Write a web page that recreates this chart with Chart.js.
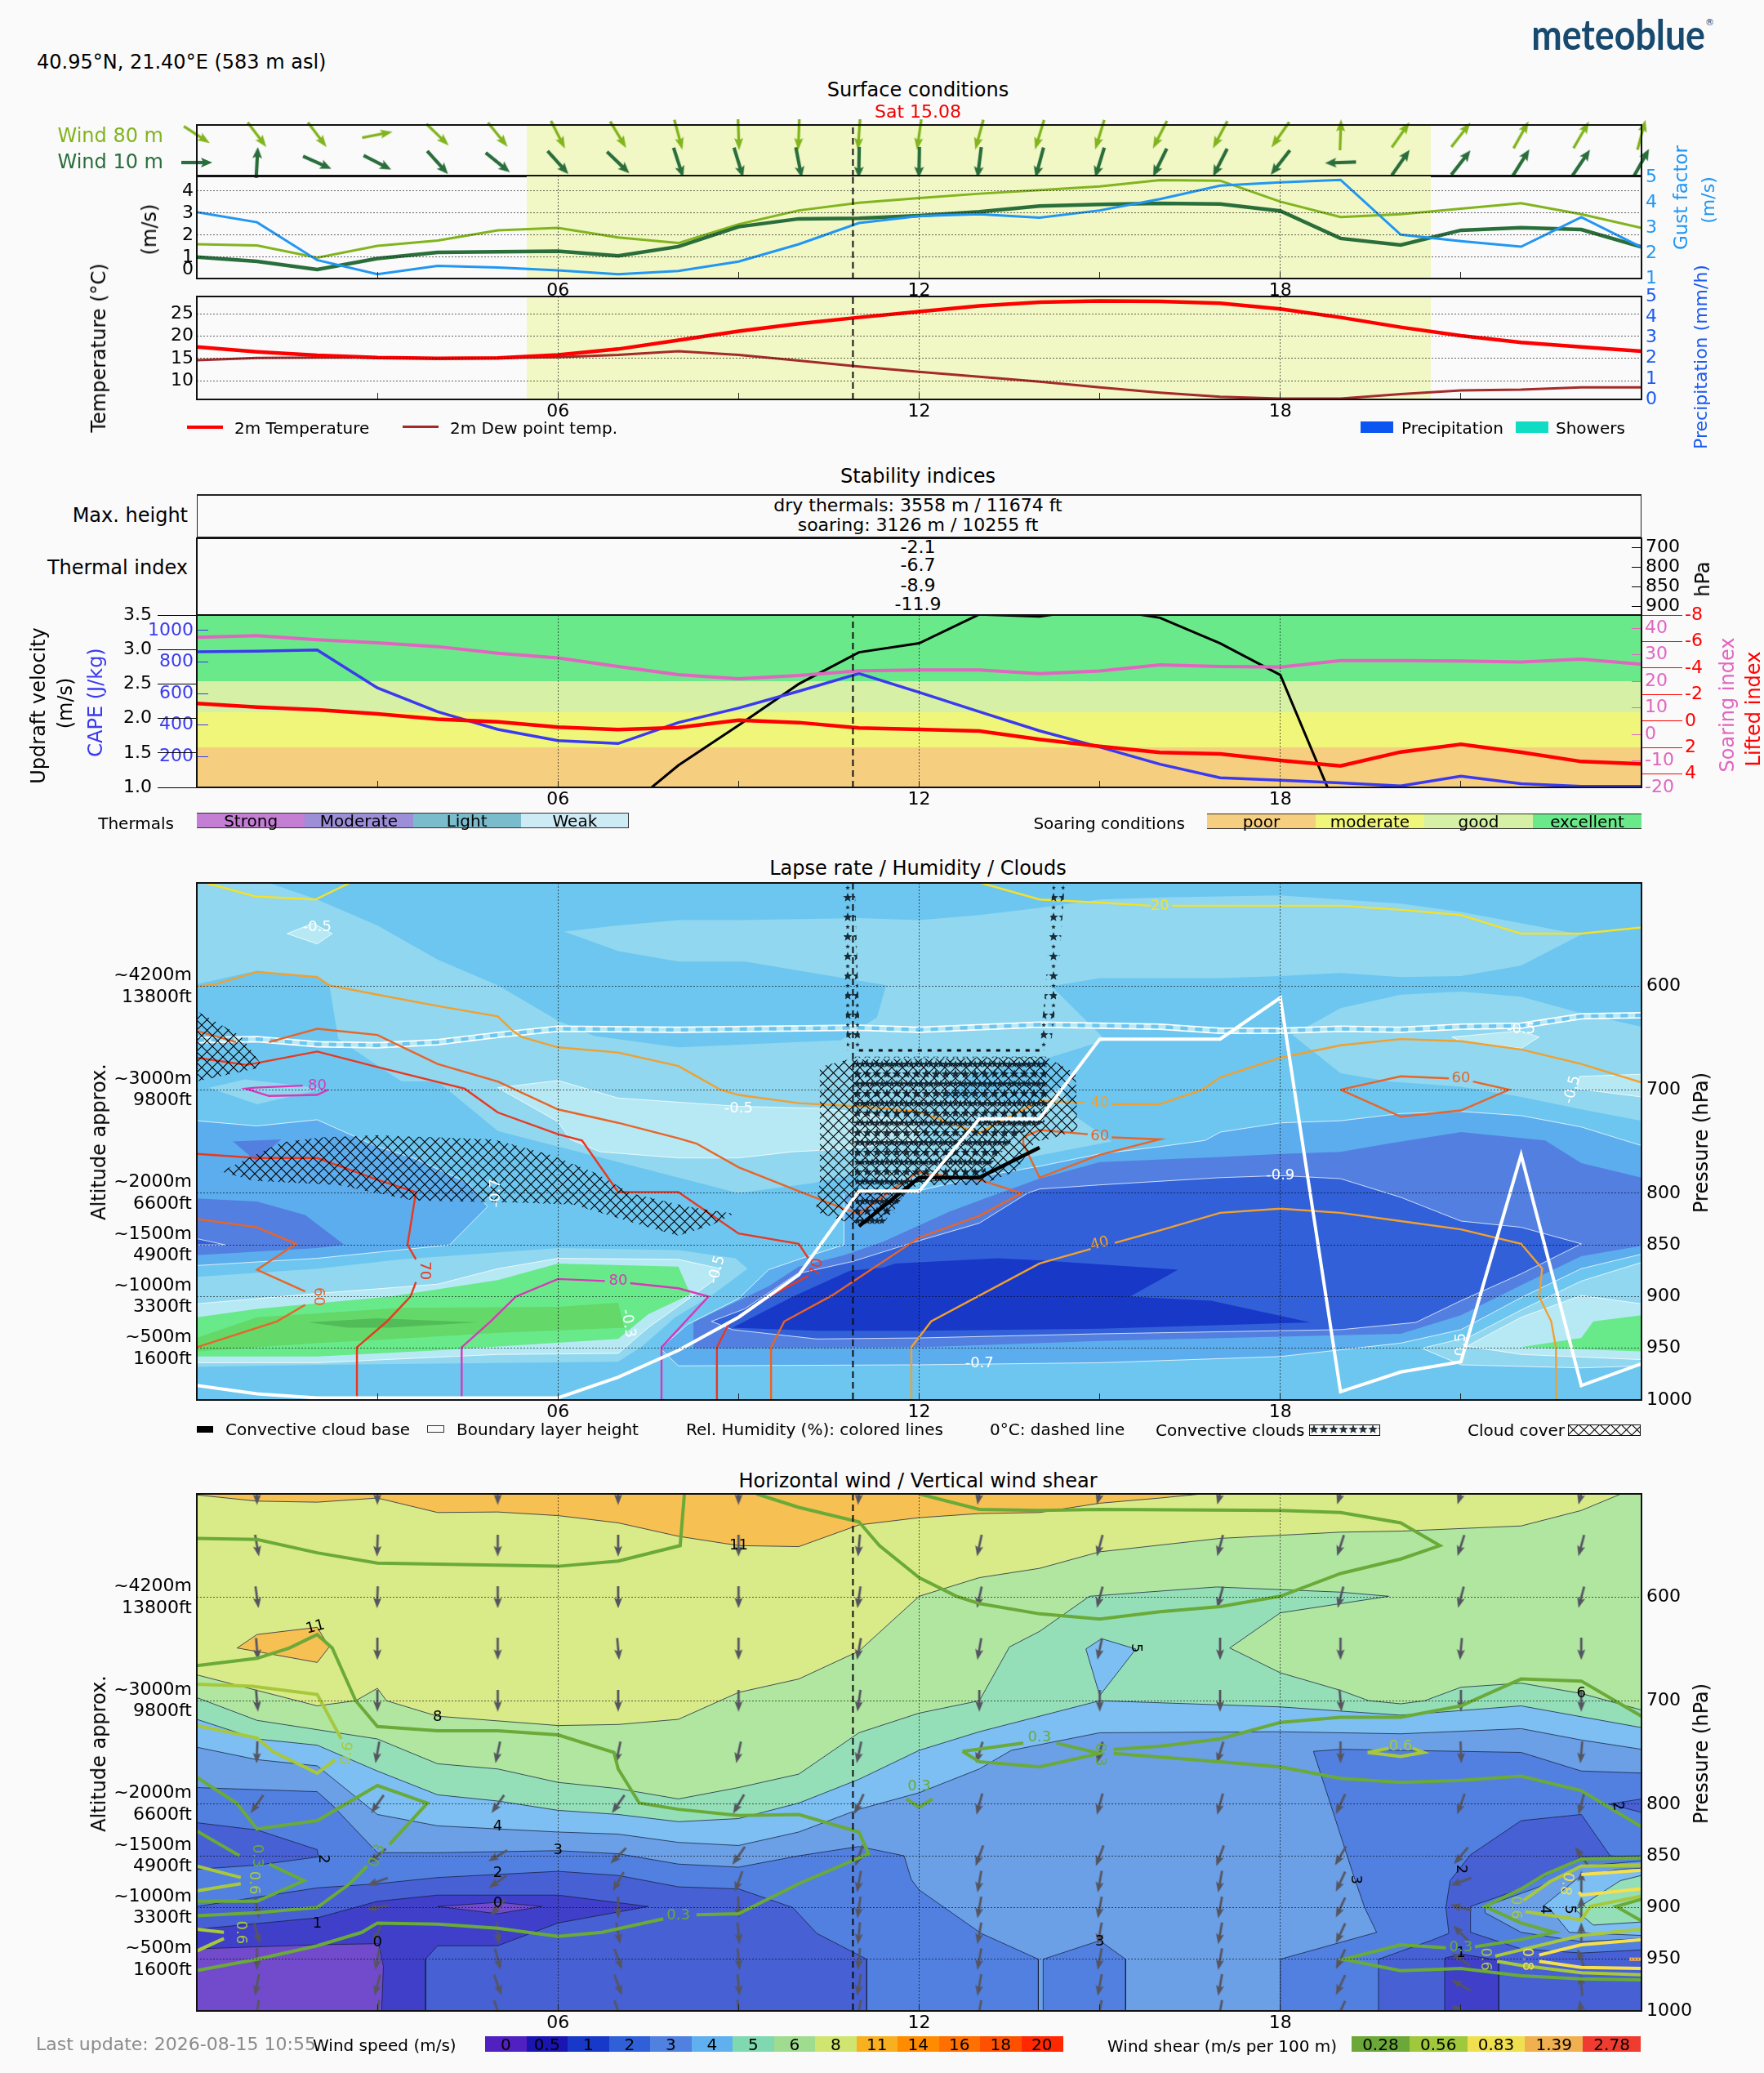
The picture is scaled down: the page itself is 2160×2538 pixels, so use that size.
<!DOCTYPE html>
<html>
<head>
<meta charset="utf-8">
<title>meteoblue</title>
<script src="https://cdn.jsdelivr.net/npm/chart.js@4"></script>
<style>
  html, body { margin: 0; background: #fafafa; }
  #page { position: relative; width: 2160px; height: 2538px; overflow: hidden; background: #fafafa; font-family: "DejaVu Sans", sans-serif; color: #000; }
  canvas { position: absolute; left: 0; }
  .t { position: absolute; white-space: nowrap; line-height: 1; }
  .box { position: absolute; box-sizing: border-box; }
</style>
</head>
<body>
<div id="page"></div>
<script>
// ── Hourly series ─────────────────────────────────────────────
const hours    = [0,1,2,3,4,5,6,7,8,9,10,11,12,13,14,15,16,17,18,19,20,21,22,23,24];
const wind80   = [1.59,1.53,.98,1.51,1.75,2.22,2.33,1.89,1.64,2.49,3.12,3.47,3.68,3.88,4.04,4.21,4.50,4.47,3.52,2.82,2.95,3.20,3.45,2.95,2.33];
const wind10   = [1.0,.81,.44,.94,1.22,1.24,1.27,1.06,1.48,2.38,2.74,2.76,2.88,3.06,3.32,3.39,3.44,3.41,3.10,1.85,1.55,2.22,2.34,2.25,1.46];
const gust     = [3.63,3.23,1.73,1.17,1.50,1.44,1.32,1.17,1.30,1.67,2.36,3.20,3.48,3.55,3.41,3.70,4.15,4.68,4.81,4.91,2.74,2.48,2.26,3.43,2.24];
const wind80Dir = [123,143,143,79,134,141,153,149,165,178,182,184,188,195,197,197,207,208,215,2,35,38,29,30,15];
const wind10Dir = [90,3,114,117,138,129,138,134,162,163,169,181,181,187,195,197,206,207,218,268,35,38,32,34,29];
const temp     = [17.6,16.5,15.7,15.2,15.0,15.1,15.8,17.1,19.1,21.1,22.8,24.2,25.5,26.8,27.6,27.9,27.8,27.4,26.1,24.2,22.0,20.1,18.6,17.6,16.6];
const dew      = [14.6,15.1,15.2,15.2,15.0,15.1,15.3,15.8,16.6,15.8,14.5,13.2,12.0,10.9,9.8,8.5,7.3,6.4,6.0,6.0,7.0,7.8,8.0,8.5,8.5];
const updraft  = [null,null,null,null,null,null,null,.6,1.32,1.9,2.5,2.96,3.09,3.51,3.48,3.6,3.46,3.09,2.63,.55,null,null,null,null,null];
const cape     = [865,869,877,636,485,373,302,283,416,508,615,727,608,485,364,261,152,66,50,33,14,76,28,12,12];
const soaring  = [36.6,37.2,35.7,34.5,33.1,30.6,28.8,25.6,22.5,21.0,22.2,24.0,24.3,24.3,22.9,23.9,26.2,25.6,25.4,27.8,27.8,27.7,27.3,28.4,26.4];
const lifted   = [-1.33,-1.06,-.85,-.55,-.14,.05,.46,.64,.48,-.07,.11,.52,.62,.75,1.38,1.9,2.37,2.47,2.96,3.38,2.33,1.75,2.35,3.05,3.23];

// ── Tick labels ───────────────────────────────────────────────
const pressureTicks = [600,700,800,850,900,950,1000];
const altitudeLabels = { 600:['~4200m','13800ft'], 700:['~3000m','9800ft'], 800:['~2000m','6600ft'], 850:['~1500m','4900ft'], 900:['~1000m','3300ft'], 950:['~500m','1600ft'] };
const thermalHpa = [700,800,850,900];
const thermalSpots = [.47,1.47,2.47,3.47];
const thermalIndex = ['-2.1','-6.7','-8.9','-11.9'];
const soaringBands = [1.0,1.58,2.09,2.54,3.5];
const nowHour = 10.9, dayStart = 5.48, dayEnd = 20.5;

// ── Lapse rate contours: [hour, hPa] ──────────────────────────
const lapseBand1 = [[0,500],[1.2,500],[2,516],[3,541],[4,574],[5,599],[6,633],[6.6,648],[8,659],[10.7,652],[11.3,630],[11.45,599],[9.1,576],[8,576],[7,566],[6.1,547],[7,541],[8,536],[9,536],[11,534],[12,536],[13,531],[14,524],[15,516],[16,514],[18,512],[19,516],[20,520],[21,528],[22,539],[23,550],[22,580],[21,590],[20,591],[19,587],[18,590],[17,592],[15,592],[14.2,600],[15.1,652],[14.1,670],[14.6,726],[15.2,750],[13.6,768],[12,792],[10.9,782],[10.25,790],[9,800],[8,785],[7,770],[6,755],[5,740],[4,692],[3.4,692],[2.35,651],[2.2,598],[2,592],[1,585],[0,598]];
const lapseBand1b = [[0.2,698],[0.8,690],[2,698],[2.05,700],[1,714]];
const lapseRight1 = [[18.2,647],[19,621],[20,608],[21,605],[22,610],[23,626],[24,639],[24,730],[23,719],[22,707],[21,697],[19.8,692],[19,684]];
const lapseBlob = [[12.9,684],[14.1,670],[14.6,690],[13.9,712],[12.4,708]];
const lapseLight1 = [[1.5,549],[1.93,539],[2.25,549],[2,559]];
const lapseLight2 = [[5,698],[6,691],[7,708],[9,716],[10.4,718],[11,722],[12,733],[12,748],[10.9,757],[9.9,760],[9,766],[8,766],[6.7,760],[6.2,748],[6,731]];
const lapseLight3 = [[20.85,649],[21.98,643],[22.3,649],[22,660],[21,653]];
const lapseLight4 = [[22.97,687],[24,685],[24,707],[22.93,699]];
const lapseLeftMid1 = [[0,730],[1,735],[2,729],[3,755],[3.6,766],[4.5,790],[4.83,813],[4.2,850],[2,863],[0,870]];
const lapseLeftMid2 = [[0,805],[1,808],[1.8,821],[2.45,850],[2,853],[0,860]];
const lapseLeftMid2b = [[0.6,750],[1.4,748],[1.05,766],[1,770]];
const lapseLeftMid3 = [[0,844],[0.47,850],[0,850]];
const lapseLens1 = [[0,881],[2,873],[3.4,864],[6,853],[8,855],[8.95,863],[9.15,873],[8.55,899],[7.95,920],[7.4,948],[7,963],[2,966],[0,968]];
const lapseLens2 = [[0,907],[2,897],[4,888],[5,873],[6,863],[8,864],[8.7,873],[8.55,886],[8.2,901],[7.5,930],[7,955],[5,956],[2,964],[0,964]];
const lapseGreen1 = [[0,920],[1,912],[3.2,900],[5,884],[6,868],[8,871],[8.2,898],[7.5,917],[7,941],[4,952],[2,958],[0,958]];
const lapseGreen2 = [[0,940],[1,920],[3.4,911],[6,910],[7,906],[7.1,930],[5,935],[3,942],[2,945],[0,953]];
const lapseGreen3 = [[1.85,925],[3,921],[4.65,925],[3.2,930],[2.5,930]];
const lapseGreenR = [[21.98,949],[23,940],[23.2,924],[24,918],[24,953]];
const lapseLightR = [[21.1,948],[22,920],[23,899],[24,907],[24,961],[22,956]];
const lapseBandR = [[20.35,950],[21.14,939],[22,913],[23,885],[24,867],[24,967],[23,969],[21,966]];
const lapseBlue1 = [[8,967],[7.7,950],[8.15,927],[9,902],[9.5,874],[10.05,863],[10.75,850],[10.75,800],[11.97,798],[13,784],[14,774],[15,762],[16,755],[16.75,749],[17,741],[18,732],[19,730],[20,723],[21,721],[22,725],[23,736],[24,754],[24,859],[23,873],[22,901],[21,932],[20,945],[18,958],[15,964],[12,966]];
const lapseBlue2 = [[8.25,950],[8.25,925],[9.5,890],[10,871],[10.75,860],[11.4,847],[12.5,818],[13,807],[14,786],[15,770],[17,765],[18,762],[19,760],[19.8,752],[21,741],[22.4,749],[23,771],[24,785],[24,851],[23,861],[22,889],[21,918],[20,936],[15,943],[12,949]];
const lapseBlue3 = [[8.55,924],[9.1,912],[9.97,878],[10.9,866],[11.94,847],[13,829],[13.8,800],[14,796],[15,792],[17,785],[18,783],[19,786],[20,804],[21,827],[22,833],[23,849],[22,878],[21,904],[20.25,925],[19,932],[15,936],[12,940],[10.3,941],[8.9,932]];
const lapseBlue4 = [[8.9,930],[9.9,900],[10.85,875],[11.4,872],[11.6,868],[13.3,863],[14,865],[16.3,874],[15.5,900],[16.85,904],[18.5,925],[15,931],[12,933],[10.3,933]];

// ── Humidity, boundary layer, cloud base, freezing level ──────
const rh20a = [[0.16,500],[0.97,513],[1.97,516],[2.54,500]];
const rh20b = [[13.03,500],[14,516],[15,519],[15.85,522],null,[16.2,522],[19,522],[20,526],[21,531],[22,549],[23,549],[24,543]];
const rh40a = [[0,600],[0.3,598],[1,586],[2,591],[2.2,599],[3,608],[4,619],[5,629],[5.25,643],[5.4,649],[6,659],[7,664],[8,677],[8.7,700],[9,705],[10,713],[11,716],[11.97,721],[13,742],[13.4,729],[14,711],[14.75,712],null,[15.2,714],[16,714],[16.7,700],[17,688],[18,669],[19,657],[20,651],[21,653],[22,661],[23,675],[24,693]];
const rh40b = [[11.87,1000],[11.87,949],[12.2,924],[14,868],[14.85,854],null,[15.25,848],[16,836],[17,819],[18,815],[19,819],[20,827],[21,835],[22,849],[22.35,873],[22.3,900],[22.5,924],[22.58,950],[22.58,1000]];
const rh60a = [[0,643],[0.65,654],null,[1.2,654],[2,641],[3,647],[4,675],[5,692],[6,719],[7,732],[8,747],[8.3,752],[9,775],[10,798],[10.75,815],[11,820],[11.66,792],[11.97,780],[13,787],[13.7,800],[13,822],[12,843],[10.55,899],[9.76,924],[9.54,949],[9.54,1000]];
const rh60b = [[19,700],[20,687],[20.8,689],null,[21.2,692],[21.8,700],[21,720],[20,726],[19,700]];
const rh60c = [[13.73,746],[14,739],[14.8,743],null,[15.2,746],[16,748],[15,763],[14,785],[13.73,752],[13.73,746]];
const rh60d = [[0,825],[1,833],[1.65,849],[1,874],[1.8,895],null,[1.8,908],[1.33,924],[0,949]];
const rh70a = [[0,669],[0.83,676],[2,663],[3,678],[4.45,699],[5,722],[6,743],[6.4,749],[7,799],[8,799],[9,839],[10,849],[10.16,863],null,[10.16,880],[9.5,900],[8.85,925],[8.64,949],[8.64,1000]];
const rh70b = [[0,762],[1,766],[2,766],[3,787],[3.64,799],[3.5,850],[3.64,864],null,[3.64,886],[3.55,900],[3.16,924],[2.66,949],[2.66,1000]];
const rh80a = [[1.76,696],[0.97,698],[0.81,699],[1.2,706],[2,705],[2.18,700]];
const rh80b = [[4.4,1000],[4.4,949],[4.88,924],[5.3,900],[6,883],[6.78,885],null,[7.2,887],[8,892],[8.5,900],[7.72,949],[7.72,1000]];
const boundaryLayer = [[0,986],[1,994],[2,998],[6,998],[7,978],[8,952],[9,920],[10,879],[11,798],[12,798],[13,728],[14,728],[15,651],[17,651],[18,611],[19,992],[20,973],[21,963],[22,763],[23,986],[24,965]];
const cloudBase = [[11,832],[12,785],[13,785],[14,756]];
const freezing = [[0,652],[1,651],[2,656],[3,657],[4,654],[5,647],[6,641],[8,642],[11,640],[12,642],[14,637],[16,639],[17,643],[18,643],[19,641],[20,642],[21,639],[22,638],[23,629],[24,628]];
const cover1 = [[0,624],[0.73,648],[1.1,678],[0,692]];
const cover2 = [[0.4,779],[1.4,751],[2.06,746],[3,744],[4.93,748],[5.88,763],[6.64,781],[7.2,800],[8.15,813],[8.92,820],[8.55,831],[8,841],[7.5,833],[6.25,811],[5.3,809],[3.6,807],[2.34,792],[0.93,788]];
const cover3 = [[10.35,678],[10.8,671],[14.1,668],[14.6,684],[14.63,739],[14.2,747],[13.93,750],[13.6,779],[13.02,792],[11.97,792],[11.6,810],[11.6,819],[11.3,825],[10.9,830],[10.28,818],[10.35,789]];
const convectiveLeft = [[10.72,500],[10.93,500],[11.02,662],[10.8,662]];
const convectiveRight = [[14.0,662],[14.1,600],[14.22,500],[14.42,500],[14.3,600],[14.18,662]];
const convectiveBody = [[10.9,668],[14.12,668],[14.12,730],[13.6,745],[13,785],[11.9,790],[11.4,830],[10.95,830]];
const convectiveRim = [[11,662],[14,662]];

// ── Wind speed contours: [hour, hPa] ──────────────────────────
const speedA = [[0,501],[1,507],[2,508],[3,504],[4,518],[5,517.5],[6,521],[7,528],[8,541],[9,550],[10,551],[11,530],[12,523],[13,519],[14,518],[15,509],[16,504],[16.7,500],[24,500],[24,1000],[0,1000]];
const speedOrange = [[0.67,649],[1,636],[2,629],[2.2,648],[2,663]];
const speedB = [[0,675],[1,690],[2,705],[2.64,700],[3,688],[3.15,700],[4,715],[6,724],[7,723],[8,718],[9,692],[10,679],[11,652],[12,599],[13,581],[14,572],[15,556],[17,543],[19,537],[20,536],[22,531],[23,516],[23.66,500],[24,500],[24,1000],[0,1000]];
const speedC = [[0,697],[1,719],[2,728],[3,737],[4,761],[5,766],[6,779],[7,785],[8,795],[9,784],[10,771],[11,731],[12,712],[13,700],[13.5,648],[14,633],[14.83,599],[16.94,590],[19,595],[19.8,599],[18,615],[17.16,649],[18,673],[19,690],[19.47,700],[20,703],[20.4,700],[21,687],[22,683],[23,693],[24,709],[24,1000],[0,1000]];
const speedD = [[0,718],[1,737],[2,743],[3,768],[4,791],[5,797],[6,806],[7,810],[8,817],[9,814],[10,799],[11,776],[12,748],[13,730],[15,700],[18,706],[20,714],[22,705],[24,726],[24,1000],[0,1000]];
const speedBlob5 = [[14.77,650],[15.03,640],[15.6,650],[15,695]];
const speedE = [[0,745],[1,757],[2,763],[3,810],[4,821],[5,824],[6,827],[7,829],[8,837],[9,840],[10,827],[11,805],[12,789],[13,766],[13.53,748],[15,731],[18,730],[20,732],[22,727],[23,738],[24,747],[24,1000],[0,1000]];
const speedF = [[0,784],[2,788],[2.25,801],[3,847],[4,847],[6,845],[7,848],[8,858],[9,861],[10,850],[11,841],[11.75,850],[11.87,873],[12,883],[13.03,925],[13.98,950],[13.98,1000],[14.06,1000],[14.06,950],[15,932],[15.43,950],[15.43,1000],[18,1000],[18,950],[19.6,924],[19.4,900],[19.2,866],[18.55,749],[19,747],[22,750],[23,768],[24,770],[24,1000],[0,1000]];
const speedG = [[0,899],[2,881],[3,877],[4,871],[6,865],[7,869],[8,880],[9,882],[9.9,900],[10.3,925],[11.13,950],[11.13,1000],[0,1000]];
const speedG2 = [[0,818],[1,825],[2,844],[2.02,851],[1,859],[0,863]];
const speedG3 = [[19.63,1000],[19.63,950],[20.5,932],[20.8,925],[20.75,900],[20.82,874],[21.16,849],[22,816],[23,810],[23.48,850],[24,852],[24,1000]];
const speedG4 = [[23.46,800],[24,795],[24,808]];
const speedLensF = [[21.16,899],[22,882],[23,851],[24,850],[24,941],[23,944],[22,940],[21.16,924]];
const speedLensE = [[21.4,899],[22.3,880],[23,860],[24,855],[24,930],[23,933],[22,924],[21.4,905]];
const speedLensD = [[22.36,899],[23,869],[23.65,863],[24,862],[24,927],[22.8,924],[22.5,903]];
const speedLensC = [[22.9,902],[23.65,874],[24,869],[24,914],[23.2,917]];
const speedH = [[0,921],[2,910],[3,894],[4,888],[6,888],[7.5,899],[6,915],[5,937],[4,937],[3.8,950],[3.8,1000],[0,1000]];
const speedH2 = [[20.73,949],[21,945],[21.63,951],[21.63,1000],[20.73,1000]];
const speedI = [[0,940],[2,936],[3.02,935],[3.1,957],[3.07,1000],[0,1000]];
const speedI2 = [[4,899],[5,895],[5.73,899],[5,906]];

// ── Wind shear contours ───────────────────────────────────────
const shear03 = [
  [[0,543],[1,544],[2,557],[3,567],[5,569],[6,570],[7,565],[8.03,550],[8.1,500]],
  [[9.3,500],[10,513],[11,527],[11.34,550],[12,581],[12.62,599],[13,606],[14,616],[15,621],[16,614],[17,609],[18,599],[19,577],[20,563],[20.65,550],[20,528],[19,518],[18,516],[15,515],[14,516],[13,515],[12,500]],
  [[0,666],[1,659],[1.54,649],[2,636],[2.25,649],[2.64,700],[3,725],[4,729],[5,729],[6,733],[6.93,750],[7,766],[7.35,799],[8,805],[9,811],[10,810],[11,827],[11.16,848],[10,877],[9,906],[8.3,907],null,[7.75,911],[6.73,924],[6,928],[5,920],[4,916],[3,915],[2.74,924],[2,937],[1,950],[0,961]],
  [[0,774],[0.66,799],[1,824],[2,816],[3,782],[3.83,799],[3.2,839],null,[2.83,860],[2.54,877],[2,900],[1,905],[0,908]],
  [[0,826],[0.71,850],null,[1.2,858],[1.78,874],[1,894],[0,894]],
  [[12.72,749],[13.73,741],null,[14.28,741],[15,751],[14,764],[13,759],[12.72,749]],
  [[15.23,747],[16,744],[17,737],[18,721],[19,716],[20,716],[21,705],[22,679],[23,681],[24,715]],
  [[15.23,751],[17,759],[18,764],[19,775],[20,779],[21,777],[22,773],[23,787],[24,822]],
  [[11.79,795],[12,803],[12.22,795]],
  [[24,970],[23,969],[22,966],[21,959],[20,961],[19.05,950],[20,936],[20.75,939],null,[21.23,938],[22,931],[22.55,924],[22,915],[21.4,899],[22,882],[22.4,868],[23,853],[24,852]],
  [[24,892],[23.58,899],[24,913]],
];
const shear06 = [
  [[0,684],[0.92,686],[2,694],[2.4,737]],
  [[0,724],[1,736],[1.26,749],[2,770],[2.3,757]],
  [[0,860],[0.73,871]], [[0,884],[0.73,877]], [[0,921],[0.45,924]], [[0,942],[0.45,930]],
  [[19.45,750],[19.8,746],null,[20.2,746],[20.38,750],[20,754],[19.45,750]],
  [[22.04,893],[22.48,875],[23,860],[24,859]],
  [[21.57,947],[23,927],[24,921]],
  [[21.6,952],[22,956],[23,963],[24,965]],
  [[22.07,904],[23,912],[23.15,899],[24,889]],
];
const shear08 = [
  [[23,868],[24,864]], [[22.96,885],[23,888],[24,882]],
  [[22.3,946],[23,936],[24,931]], [[22.3,952],[23,958],[24,959]],
];
const shear14 = [[23.8,950],[24,950]];

// ── Wind field, bearing of each arrow by level and hour ───────
const windHours = [1,3,5,7,9,11,13,15,17,19,21,23];
const windLevels = [500,550,600,650,700,750,800,850,875,900,925,950,975,1000];
const windDirs = [
  [180,180,180,180,180,185,190,195,195,198,198,195],
  [170,182,180,180,180,185,192,195,195,198,198,195],
  [172,182,180,180,180,188,192,195,195,195,195,195],
  [175,180,180,175,180,190,190,192,180,180,185,180],
  [175,180,180,180,180,188,180,180,180,175,180,180],
  [182,190,192,192,192,192,197,195,197,180,178,185],
  [215,215,215,215,210,205,195,195,195,205,200,195],
  [null,230,240,225,215,200,200,200,200,210,220,325],
  [null,250,235,210,200,190,190,190,190,205,250,0],
  [170,260,220,180,178,188,190,190,190,205,285,0],
  [165,205,175,170,175,185,190,190,190,205,315,0],
  [180,190,165,160,175,185,190,190,190,205,305,340],
  [190,195,160,160,175,190,190,190,190,205,300,355],
  [190,190,160,160,175,190,190,190,190,205,300,350],
];

// ── Contour labels: text, hour, hPa, colour, rotation ─────────
const lapseLabels = [
  ['-0.5',2,543,'#fff',0],['-0.5',9,718,'#fff',0],['-0.5',8.64,874,'#fff',-75],['-0.3',7.16,926,'#fff',80],
  ['-0.7',4.97,800,'#fff',-90],['-0.9',18,783,'#fff',0],['-0.7',13,965,'#fff',0],['-0.5',21,949,'#fff',-90],
  ['-0.5',22,642,'#fff',0],['-0.5',22.85,700,'#fff',-75],
  ['20',16,522,'#f5e02a',0],['40',15,713,'#f0a030',0],['40',15,849,'#f0a030',-15],
  ['60',15,745,'#e86428',0],['60',21,689,'#e86428',0],['60',2.02,900,'#e86428',90],
  ['70',3.78,875,'#e8381f',90],['70',10.3,872,'#e8381f',-80],
  ['80',2,696,'#d838b8',0],['80',7,885,'#d838b8',0],
];
const windLabels = [
  ['11',9,550,'#000',0],['11',1.97,629,'#000',-15],['8',4,716,'#000',0],['4',5,822,'#000',0],['3',6,845,'#000',0],
  ['2',5,867,'#000',0],['0',5,896,'#000',0],['1',2,916,'#000',0],['0',3,934,'#000',0],['2',2.1,853,'#000',90],
  ['5',15.6,649,'#000',90],['6',23,693,'#000',0],['3',15,933,'#000',0],['3',19.25,873,'#000',90],['2',21,863,'#000',90],
  ['1',21,944,'#000',0],['2',23.6,802,'#000',80],['4',22.4,902,'#000',90],['5',22.8,902,'#000',90],
  ['0.3',8,908,'#6aaa38',0],['0.3',1,850,'#6aaa38',90],['0.6',2.5,751,'#a8c83c',-80],['0.3',3,850,'#6aaa38',-70],
  ['0.6',0.95,876,'#a8c83c',90],['0.6',0.73,924,'#a8c83c',90],['0.3',14,736,'#6aaa38',0],['0.3',15,752,'#6aaa38',90],
  ['0.3',12,783,'#6aaa38',0],['0.6',20,744,'#a8c83c',0],['0.3',21,939,'#6aaa38',0],['0.6',21.4,950,'#a8c83c',90],
  ['0.8',22.1,950,'#f0e050',90],['0.6',21.9,900,'#a8c83c',90],['0.8',22.75,877,'#f0e050',100],
];

// ── Legends ───────────────────────────────────────────────────
const thermalsLegend = ['Strong','Moderate','Light','Weak'];
const soaringLegend  = ['poor','moderate','good','excellent'];
const speedScale = ['0','0.5','1','2','3','4','5','6','8','11','14','16','18','20'];
const shearScale = ['0.28','0.56','0.83','1.39','2.78'];

const C = {
  w80:'#82b41e', w10:'#2a6e3c', gust:'#2196f3', precip:'#1a5af0', cape:'#3a3af0', soar:'#e066c0',
  day:'#f1f8c5', grid:'rgba(0,0,0,.6)',
  base:'#6cc6f0', l1:'#90d7ef', l2:'#b7e9f4', m1:'#5cadee', m2:'#5380e0', m3:'#3160d8', m4:'#1838c8',
  g1:'#68e98a', g2:'#64d868', g3:'#52bd58',
  s03:'#6aaa38', s06:'#a8c83c', s08:'#f5e04c',
};
const thermalsColors = ['#c47ed4','#9c8fd8','#7abccc','#cdebf4'];
const soaringColors  = ['#f6ce80','#f0f67a','#d6f0a5','#69e989'];
const speedColors = ['#5020c0','#1a14b0','#1838c8','#3060d8','#5080e0','#60b0f0','#80d8b0','#a0dc90','#d0e470','#f8b020','#ff8c00','#ff7000','#ff5000','#ff2800'];
const shearColors = ['#6ca838','#a0c83c','#f0e050','#f0b050','#f03c30'];

Chart.defaults.font.family = '"DejaVu Sans", sans-serif';
Chart.defaults.font.size = 22;
Chart.defaults.color = '#000';

const page = document.getElementById('page');
const PAD = 60; // wide enough that tick padding never squeezes the plot area

// ── DOM helpers ───────────────────────────────────────────────
function T(text, x, y, o = {}) {
  const el = document.createElement('div');
  el.className = 't';
  el.textContent = text;
  el.style.left = x + 'px';
  el.style.top = y + 'px';
  el.style.fontSize = (o.size || 20) + 'px';
  if (o.color) el.style.color = o.color;
  if (o.weight) el.style.fontWeight = o.weight;
  if (o.family) el.style.fontFamily = o.family;
  const ax = o.align === 'r' ? '-100%' : o.align === 'c' ? '-50%' : '0';
  el.style.transform = `translate(${ax},-50%)` + (o.rot ? ` rotate(${o.rot}deg)` : '') + (o.stretch || '');
  page.appendChild(el);
  return el;
}
function box(x, y, w, h, style = {}) {
  const el = document.createElement('div');
  el.className = 'box';
  Object.assign(el.style, { left: x + 'px', top: y + 'px', width: w + 'px', height: h + 'px' }, style);
  page.appendChild(el);
  return el;
}
const vText = (text, x, y, o = {}) => T(text, x, y, { align: 'c', rot: -90, size: 24, ...o });

// ── Dataset helpers ───────────────────────────────────────────
const pts = a => a.map(p => p ? { x: p[0], y: p[1] } : { x: NaN, y: NaN });
const series = s => s.map((v, i) => ({ x: hours[i], y: v === null ? NaN : v }));
const yScale = id => ({ yAxisID: id, xAxisID: 'x' });
function poly(a, color, id = 'y', border = 'transparent', bw = 0) {
  return { data: pts([...a, a[0]]), showLine: true, fill: 'shape', backgroundColor: color, borderColor: border, borderWidth: bw, pointRadius: 0, tension: 0, ...yScale(id) };
}
function line(data, color, width, id = 'y', extra = {}) {
  return { data, showLine: true, fill: false, borderColor: color, borderWidth: width, pointRadius: 0, tension: 0, borderJoinStyle: 'miter', ...yScale(id), ...extra };
}
const rect = (x0, x1, y0, y1, color, id) => poly([[x0, y0], [x1, y0], [x1, y1], [x0, y1]], color, id);
const nowLine = (y0, y1, id) => line(pts([[nowHour, y0], [nowHour, y1]]), '#111', 2, id, { borderDash: [8, 5] });

// arrows are real point styles, rotated by the chart
function arrowImage(color, len, shaft, headW, headL) {
  const cv = document.createElement('canvas');
  cv.width = Math.ceil(headW) + 2; cv.height = len;
  const g = cv.getContext('2d'), m = cv.width / 2;
  g.fillStyle = color;
  g.beginPath();
  g.moveTo(m, 0); g.lineTo(m + headW / 2, headL); g.lineTo(m + shaft / 2, headL - 2);
  g.lineTo(m + shaft / 2, len); g.lineTo(m - shaft / 2, len); g.lineTo(m - shaft / 2, headL - 2);
  g.lineTo(m - headW / 2, headL); g.closePath(); g.fill();
  return cv;
}
function arrows(points, rotation, img, id = 'y') {
  return { data: points, showLine: false, pointStyle: img, pointRadius: 10, pointRotation: rotation, ...yScale(id) };
}

// hatch fills
function hatchPattern() {
  const cv = document.createElement('canvas'); cv.width = cv.height = 13;
  const g = cv.getContext('2d');
  g.strokeStyle = '#000'; g.lineWidth = 1.1;
  g.beginPath(); g.moveTo(0, 0); g.lineTo(13, 13); g.moveTo(13, 0); g.lineTo(0, 13); g.stroke();
  return g.createPattern(cv, 'repeat');
}
function starPath(g, x, y, r) {
  g.beginPath();
  for (let i = 0; i < 10; i++) {
    const a = -Math.PI / 2 + i * Math.PI / 5, q = i % 2 ? r * .42 : r;
    g[i ? 'lineTo' : 'moveTo'](x + q * Math.cos(a), y + q * Math.sin(a));
  }
  g.closePath(); g.fill();
}
function starPattern() {
  const cv = document.createElement('canvas'); cv.width = 12; cv.height = 24;
  const g = cv.getContext('2d');
  g.fillStyle = 'rgba(12,24,36,.9)';
  starPath(g, 6, 6, 6);
  [0, 6, 12].forEach(x => starPath(g, x, 18, 5));
  return g.createPattern(cv, 'repeat');
}
function starColumnPattern() {
  const cv = document.createElement('canvas'); cv.width = 12; cv.height = 24;
  const g = cv.getContext('2d');
  g.fillStyle = 'rgba(12,24,36,.9)';
  starPath(g, 6, 6, 6);
  starPath(g, 6, 18, 3);
  return g.createPattern(cv, 'repeat');
}

// ── Axis helpers ──────────────────────────────────────────────
const isMajor = v => v === 6 || v === 12 || v === 18;
function xAxis(labels, grid = true) {
  return {
    type: 'linear', min: 0, max: 24,
    afterFit: s => { s.height = PAD; },
    border: { display: false, dash: [2, 2] },
    grid: {
      z: 1, lineWidth: 1, tickLength: -8,
      color: c => grid && isMajor(c.tick.value) ? C.grid : 'transparent',
      tickColor: c => labels && c.tick.value % 3 === 0 && c.tick.value > 0 && c.tick.value < 24 ? '#222' : 'transparent',
    },
    ticks: { stepSize: 3, autoSkip: false, maxRotation: 0, padding: 10, font: { size: 22 },
      callback: v => labels && isMajor(v) ? String(v).padStart(2, '0') : '' },
  };
}
function yAxis(pos, min, max, values, o = {}) {
  return {
    type: 'linear', axis: 'y', position: pos, min, max, reverse: !!o.reverse, weight: o.weight || 0,
    afterFit: s => { s.width = o.width !== undefined ? o.width : (pos === 'left' ? 241 : 150); },
    afterBuildTicks: s => { s.ticks = values.map(v => ({ value: v })); },
    border: { display: false, dash: o.grid ? [2, 2] : undefined },
    grid: {
      z: 1, lineWidth: 1, drawTicks: o.tick !== undefined, tickLength: o.tick || 0,
      color: c => o.grid && !(o.noGridBelow !== undefined && c.tick.value < o.noGridBelow) && c.tick.value !== max ? C.grid : 'transparent',
      tickColor: o.color || '#000',
      drawOnChartArea: !!o.grid,
    },
    // width-0 axes sit on the plot edge, mirror keeps their labels from being clipped to the box
    ticks: { display: o.labels !== false, autoSkip: false, padding: o.pad !== undefined ? o.pad : 4, color: o.color || '#000',
      mirror: !!o.mirror, crossAlign: o.mirror ? 'far' : 'near',
      font: { size: o.size || 22 }, lineHeight: 1.05,
      callback: o.fmt || (v => String(v)) },
  };
}

// frame and contour text are drawn last
const framePlugin = {
  id: 'frame',
  afterDraw(chart) {
    const { ctx, chartArea: a } = chart;
    ctx.save();
    ctx.strokeStyle = '#111'; ctx.lineWidth = 2;
    ctx.strokeRect(a.left, a.top, a.right - a.left, a.bottom - a.top);
    ctx.restore();
  },
};
function textPlugin(items) {
  return {
    id: 'contourText',
    afterDatasetsDraw(chart) {
      const { ctx, scales } = chart;
      ctx.save();
      ctx.font = '18px "DejaVu Sans"'; ctx.textAlign = 'center'; ctx.textBaseline = 'middle';
      items.forEach(([s, h, p, col, rot]) => {
        ctx.save();
        ctx.translate(scales.x.getPixelForValue(h), scales.y.getPixelForValue(p));
        ctx.rotate(rot * Math.PI / 180);
        ctx.fillStyle = col;
        ctx.fillText(s, 0, 0);
        ctx.restore();
      });
      ctx.restore();
    },
  };
}

// one panel = one chart, layers are listed bottom first
function panel(top, bottom, layers, scales, labels) {
  const cv = document.createElement('canvas');
  cv.width = 2160; cv.height = Math.round(bottom - top + PAD * 2);
  cv.style.top = (top - PAD) + 'px';
  cv.style.width = '2160px'; cv.style.height = cv.height + 'px';
  page.appendChild(cv);
  const plugins = [framePlugin];
  if (labels) plugins.push(textPlugin(labels));
  return new Chart(cv, {
    type: 'scatter',
    data: { datasets: layers.slice().reverse() },
    options: {
      responsive: false, animation: false, devicePixelRatio: 1, events: [],
      layout: { padding: { top: PAD, left: 0, right: 0, bottom: 0 } },
      plugins: { legend: { display: false }, tooltip: { enabled: false } },
      scales,
    },
    plugins,
  });
}

// ── Header and surface conditions ─────────────────────────────
const logo = T('meteoblue', 2088, 41, { align: 'r', size: 52, color: '#174a6e', weight: 700, family: 'Lato, sans-serif', stretch: ' scaleX(.86)' });
logo.style.transformOrigin = '100% 50%';
T('®', 2088, 27, { size: 11, color: '#174a6e' });
T('40.95°N, 21.40°E (583 m asl)', 45, 76, { size: 24 });
T('Surface conditions', 1124, 110, { align: 'c', size: 24 });

const windImg80 = arrowImage(C.w80, 38, 3.4, 11, 15);
const windImg10 = arrowImage(C.w10, 38, 4.2, 12, 14);
panel(152.5, 215, [
  rect(dayStart, dayEnd, 0, 1, C.day),
  nowLine(0, 1),
  { ...arrows(hours.map(h => ({ x: h, y: .81 })), wind80Dir, windImg80), clip: false },
  { ...arrows(hours.map(h => ({ x: h, y: .27 })), wind10Dir, windImg10), clip: false },
], { x: xAxis(false, false), y: yAxis('left', 0, 1, [], { labels: false }), yr: yAxis('right', 0, 1, [], { labels: false }) });
T('Wind 80 m', 200, 166, { align: 'r', size: 24, color: C.w80 });
T('Wind 10 m', 200, 198, { align: 'r', size: 24, color: C.w10 });
T('Sat 15.08', 1124, 137, { align: 'c', size: 22, color: '#f00000' });

panel(215, 341, [
  rect(dayStart, dayEnd, -1, 6, C.day),
  line(series(wind80), C.w80, 3),
  line(series(wind10), C.w10, 4.5),
  line(series(gust), C.gust, 3, 'yr'),
  nowLine(0, 4.7),
], {
  x: xAxis(true),
  y: yAxis('left', 0.03, 4.7, [0.42, 1, 2, 3, 4], { grid: true, noGridBelow: 1, fmt: v => v < 1 ? '0' : String(v) }),
  yr: yAxis('right', 1, 5.08, [1, 2, 3, 4, 5], { color: C.gust, pad: 5 }),
});

panel(363, 489, [
  rect(dayStart, dayEnd, 0, 40, C.day),
  line(series(dew), '#a52a2a', 3),
  line(series(temp), '#ff0000', 4.5),
  nowLine(5.8, 28.9),
], {
  x: xAxis(true),
  y: yAxis('left', 5.8, 28.9, [10, 15, 20, 25], { grid: true }),
  yr: yAxis('right', 0, 5, [0, 1, 2, 3, 4, 5], { color: C.precip, pad: 5 }),
});
vText('(m/s)', 183, 281);
vText('Temperature (°C)', 121, 426);
vText('Gust factor', 2058, 242, { color: C.gust, size: 23 });
vText('(m/s)', 2092, 245, { color: C.gust, size: 22 });
vText('Precipitation (mm/h)', 2083, 437, { color: C.precip, size: 22 });

box(229, 521, 44, 4, { background: '#f00' });
T('2m Temperature', 287, 524);
box(493, 521, 44, 3, { background: '#a52a2a' });
T('2m Dew point temp.', 551, 524);
box(1666, 516, 40, 14, { background: '#0b55f0' });
T('Precipitation', 1716, 524);
box(1856, 516, 40, 14, { background: '#10dcc4' });
T('Showers', 1905, 524);

// ── Stability indices ─────────────────────────────────────────
T('Stability indices', 1124, 583, { align: 'c', size: 24 });
box(241, 605, 1769, 54, { border: '1px solid #222', borderTop: '2px solid #222', borderBottom: '2px solid #222' });
T('Max. height', 230, 631, { align: 'r', size: 24 });
T('dry thermals: 3558 m / 11674 ft', 1124, 619, { align: 'c', size: 22 });
T('soaring: 3126 m / 10255 ft', 1124, 643, { align: 'c', size: 22 });
T('Thermal index', 230, 695, { align: 'r', size: 24 });
thermalIndex.forEach((v, i) => T(v, 1124, [670, 692, 717, 740][i], { align: 'c', size: 22 }));

panel(658.7, 753.3, [], {
  x: xAxis(false, false),
  y: yAxis('left', 0, 1, [], { labels: false }),
  yr: yAxis('right', 0, 3.96, thermalSpots, { reverse: true, tick: -12, pad: 17, fmt: (v, i) => String(thermalHpa[i]) }),
});

panel(753.3, 964.3, [
  rect(0, 24, soaringBands[0], soaringBands[1], soaringColors[0], 'y'),
  rect(0, 24, soaringBands[1], soaringBands[2], soaringColors[1], 'y'),
  rect(0, 24, soaringBands[2], soaringBands[3], soaringColors[2], 'y'),
  rect(0, 24, soaringBands[3], soaringBands[4], soaringColors[3], 'y'),
  line(series(updraft), '#000', 3, 'y'),
  line(series(cape), C.cape, 3.5, 'cape'),
  line(series(soaring), C.soar, 4, 'soar'),
  line(series(lifted), '#f00', 4.5, 'lift'),
  nowLine(1, 3.5, 'y'),
], {
  x: xAxis(true),
  y: yAxis('left', 1, 3.5, [1, 1.5, 2, 2.5, 3, 3.5], { weight: 2, width: 241, tick: 48, pad: 7, fmt: v => v.toFixed(1) }),
  cape: yAxis('left', 5, 1098, [200, 400, 600, 800, 1000], { weight: 1, width: 0, tick: -14, pad: -60, mirror: true, color: C.cape }),
  soar: yAxis('right', -20, 45, [-20, -10, 0, 10, 20, 30, 40], { weight: 1, width: 0, tick: -12, pad: 40, mirror: true, color: C.soar }),
  lift: yAxis('right', -8, 5, [-8, -6, -4, -2, 0, 2, 4], { weight: 2, width: 150, tick: 50, pad: 3, reverse: true, color: '#f00' }),
});
vText('Updraft velocity', 47, 864);
vText('(m/s)', 80, 861);
vText('CAPE (J/kg)', 117, 860, { color: C.cape });
vText('Soaring index', 2115, 863, { color: C.soar });
vText('Lifted index', 2147, 868, { color: '#f00' });
vText('hPa', 2085, 709);

T('Thermals', 213, 1008, { align: 'r' });
thermalsLegend.forEach((s, i) => {
  box(241 + i * 132.25, 995, 132.25, 19, { background: thermalsColors[i], borderTop: '1px solid #333', borderBottom: '1px solid #333' });
  T(s, 241 + (i + .5) * 132.25, 1005, { align: 'c' });
});
box(769, 995, 1, 19, { background: '#333' });
T('Soaring conditions', 1451, 1008, { align: 'r' });
soaringLegend.forEach((s, i) => {
  box(1478 + i * 133, 996, 133, 19, { background: soaringColors[i], borderTop: '1px solid #333', borderBottom: '1px solid #333' });
  T(s, 1478 + (i + .5) * 133, 1006, { align: 'c' });
});

// ── Lapse rate ────────────────────────────────────────────────
T('Lapse rate / Humidity / Clouds', 1124, 1063, { align: 'c', size: 24 });
const pressureY = () => ({
  y: yAxis('left', 500, 1000, pressureTicks.slice(0, 6), { reverse: true, grid: true, pad: 6, fmt: v => altitudeLabels[v] }),
  yr: yAxis('right', 500, 1000, pressureTicks, { reverse: true, pad: 6 }),
});
const white = 'rgba(255,255,255,.75)';
const hatch = hatchPattern(), stars = starPattern(), starCol = starColumnPattern();
const humidity = [[rh20a, '#f5e02a'], [rh20b, '#f5e02a'], [rh40a, '#f0a030'], [rh40b, '#f0a030'], [rh60a, '#e86428'], [rh60b, '#e86428'], [rh60c, '#e86428'], [rh60d, '#e86428'], [rh70a, '#e8381f'], [rh70b, '#e8381f'], [rh80a, '#d838b8'], [rh80b, '#d838b8']];

panel(1080.6, 1713.5, [
  rect(0, 24, 500, 1000, C.base),
  poly(lapseBand1, C.l1),
  poly(lapseBand1b, C.l1),
  poly(lapseRight1, C.l1),
  poly(lapseBlob, C.base),
  poly(lapseLight1, C.l2, 'y', white, 1),
  poly(lapseLight2, C.l2, 'y', white, 1),
  poly(lapseLight3, C.l2, 'y', white, 1),
  poly(lapseLight4, C.l2, 'y', white, 1),
  poly(lapseLeftMid1, C.m1, 'y', white, 1),
  poly(lapseLeftMid2, C.m2),
  poly(lapseLeftMid2b, C.m2),
  poly(lapseLeftMid3, C.m3, 'y', white, 1),
  poly(lapseLens1, C.l1),
  poly(lapseLens2, C.l2, 'y', white, 1),
  poly(lapseGreen1, C.g1),
  poly(lapseGreen2, C.g2),
  poly(lapseGreen3, C.g3),
  poly(lapseBlue1, C.m1, 'y', white, 1),
  poly(lapseBlue2, C.m2),
  poly(lapseBlue3, C.m3, 'y', white, 1),
  poly(lapseBlue4, C.m4),
  poly(lapseBandR, C.l1, 'y', white, 1),
  poly(lapseLightR, C.l2, 'y', white, 1),
  poly(lapseGreenR, C.g1),
  line(pts(freezing), '#fff', 8),
  line(pts(freezing), '#b7e9f4', 4.5),
  line(pts(freezing), C.base, 4.5, 'y', { borderDash: [9, 9] }),
  ...humidity.map(([a, col]) => line(pts(a), col, 2.4)),
  poly(cover1, hatch),
  poly(cover2, hatch),
  poly(cover3, hatch),
  poly(convectiveLeft, starCol),
  poly(convectiveRight, starCol),
  poly(convectiveBody, stars),
  line(pts(convectiveRim), '#111', 3, 'y', { borderDash: [5, 7] }),
  line(pts(cloudBase), '#000', 4.5),
  line(pts(boundaryLayer), '#fff', 4),
  nowLine(500, 1000),
], { x: xAxis(true), ...pressureY() }, lapseLabels);
vText('Altitude approx.', 121, 1398);
vText('Pressure (hPa)', 2083, 1399);

box(241, 1746, 20, 8, { background: '#000' });
T('Convective cloud base', 276, 1750);
box(523, 1745, 21, 9, { border: '1px solid #333', background: '#fafafa' });
T('Boundary layer height', 559, 1750);
T('Rel. Humidity (%): colored lines', 840, 1750);
T('0°C: dashed line', 1212, 1750);
T('Convective clouds', 1415, 1751);
T('Cloud cover', 1797, 1751);
// swatches use the same fills as the chart
function patternSwatch(x, w, pattern) {
  const cv = document.createElement('canvas');
  cv.width = w; cv.height = 14;
  cv.style.left = x + 'px'; cv.style.top = '1744px';
  const g = cv.getContext('2d');
  g.fillStyle = pattern; g.fillRect(0, 0, w, 14);
  g.strokeStyle = '#111'; g.strokeRect(.5, .5, w - 1, 13);
  page.appendChild(cv);
}
patternSwatch(1603, 87, starPattern());
patternSwatch(1920, 89, hatchPattern());

// ── Horizontal wind ───────────────────────────────────────────
T('Horizontal wind / Vertical wind shear', 1124, 1813, { align: 'c', size: 24 });
const edge = 'rgba(20,30,60,.75)';
const contour = (a, col) => poly(a, col, 'y', edge, 1);
const fieldPoints = [], fieldRot = [];
windLevels.forEach((lev, r) => windHours.forEach((h, c) => {
  const d = windDirs[r][c];
  fieldPoints.push(d === null ? { x: NaN, y: NaN } : { x: h, y: lev });
  fieldRot.push(d === null ? 0 : d);
}));
const fieldImg = arrowImage('#555560', 27, 2.8, 10, 13);

panel(1829.3, 2462.6, [
  rect(0, 24, 500, 1000, '#f6c052'),
  contour(speedA, '#d9ea88'),
  contour(speedOrange, '#f6c052'),
  contour(speedB, '#b0e6a0'),
  contour(speedC, '#94dfb8'),
  contour(speedD, '#7dbff2'),
  contour(speedBlob5, '#7dbff2'),
  contour(speedE, '#6b9fe6'),
  contour(speedF, '#5280e0'),
  contour(speedG, '#4760d4'),
  contour(speedG2, '#4760d4'),
  contour(speedG3, '#4760d4'),
  contour(speedG4, '#4760d4'),
  contour(speedLensF, '#5280e0'),
  contour(speedLensE, '#6b9fe6'),
  contour(speedLensD, '#7dbff2'),
  contour(speedLensC, '#94dfb8'),
  contour(speedH, '#3f3fca'),
  contour(speedH2, '#3f3fca'),
  contour(speedI, '#724bcc'),
  contour(speedI2, '#724bcc'),
  arrows(fieldPoints, fieldRot, fieldImg),
  ...shear03.map(a => line(pts(a), C.s03, 4)),
  ...shear06.map(a => line(pts(a), C.s06, 4)),
  ...shear08.map(a => line(pts(a), C.s08, 4)),
  line(pts(shear14), '#f0b050', 4),
  nowLine(500, 1000),
], { x: xAxis(true), ...pressureY() }, windLabels);
vText('Altitude approx.', 121, 2147);
vText('Pressure (hPa)', 2083, 2147);

T('Last update: 2026-08-15 10:55', 44, 2503, { size: 22, color: '#8a8a8a' });
T('Wind speed (m/s)', 383, 2504);
speedScale.forEach((s, i) => {
  const w = 707 / speedScale.length;
  box(594 + i * w, 2493, w + .5, 19, { background: speedColors[i] });
  T(s, 594 + (i + .5) * w, 2503, { align: 'c' });
});
T('Wind shear (m/s per 100 m)', 1356, 2505);
shearScale.forEach((s, i) => {
  const w = 354 / shearScale.length;
  box(1655 + i * w, 2493, w + .5, 19, { background: shearColors[i] });
  T(s, 1655 + (i + .5) * w, 2503, { align: 'c' });
});
</script>
</body>
</html>
